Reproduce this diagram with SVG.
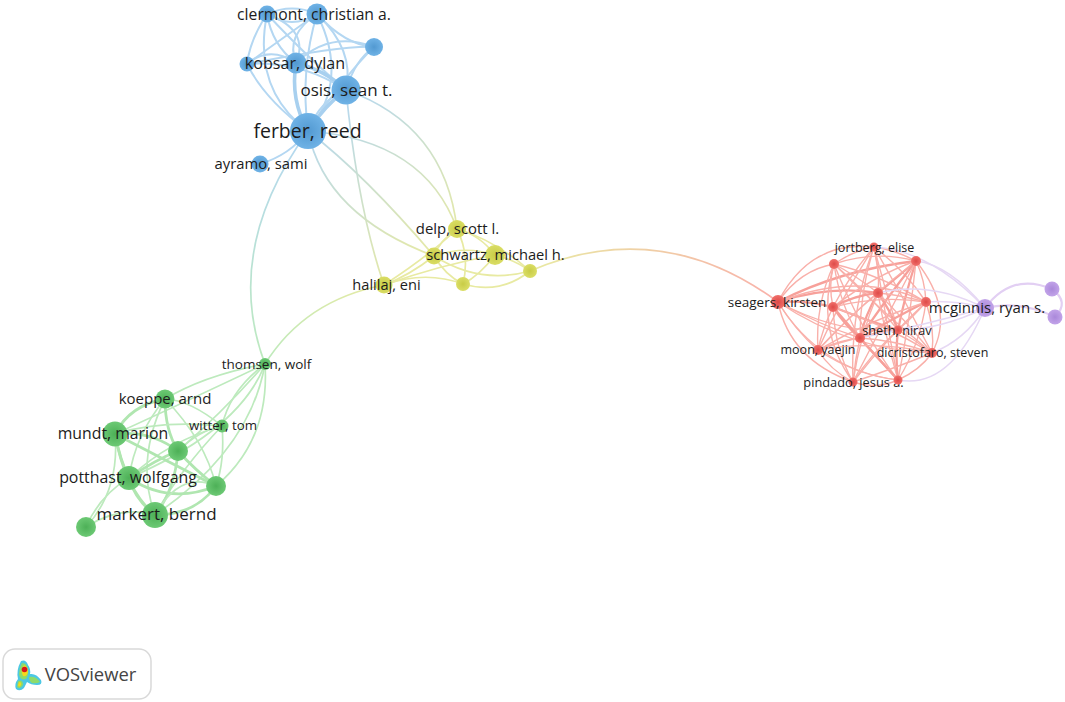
<svg xmlns="http://www.w3.org/2000/svg" width="1065" height="702" viewBox="0 0 1065 702">
<style>
text{font-family:"Open Sans","Noto Sans",sans-serif;fill:#1c1c1c;text-anchor:middle}
#connectors{filter:url(#soft)}
#connectors path{fill:none;stroke-linecap:round}
.b{stroke:#b4d7f2;stroke-width:2}
.bt{stroke:#a8d0ef;stroke-width:3.6}
.g{stroke:#bdeabd;stroke-width:1.7}
.gt{stroke:#b0e6b0;stroke-width:2.8}
.y{stroke:#e8eaa2;stroke-width:1.7}
.r{stroke:#f9b0aa;stroke-width:1.4}
.rt{stroke:#f7a09a;stroke-width:2.3}
.p{stroke:#e6d8f4;stroke-width:1.5}
.pt{stroke:#e2cff3;stroke-width:2.2}
</style>
<defs>
<filter id="soft" x="-5%" y="-5%" width="110%" height="110%"><feGaussianBlur stdDeviation="0.35"/></filter>
<radialGradient id="nb" cx="50%" cy="50%" r="55%"><stop offset="0" stop-color="#5299d1"/><stop offset="1" stop-color="#72b5e8"/></radialGradient>
<radialGradient id="ng" cx="50%" cy="50%" r="55%"><stop offset="0" stop-color="#4db057"/><stop offset="1" stop-color="#70cc78"/></radialGradient>
<radialGradient id="ny" cx="50%" cy="50%" r="55%"><stop offset="0" stop-color="#c8cc46"/><stop offset="1" stop-color="#dcdf68"/></radialGradient>
<radialGradient id="nr" cx="50%" cy="50%" r="55%"><stop offset="0" stop-color="#de4a48"/><stop offset="1" stop-color="#f2736e"/></radialGradient>
<radialGradient id="np" cx="50%" cy="50%" r="55%"><stop offset="0" stop-color="#aa88da"/><stop offset="1" stop-color="#c4a6ea"/></radialGradient>
<linearGradient id="bg" gradientUnits="userSpaceOnUse" x1="0" y1="130" x2="0" y2="364"><stop offset="0" stop-color="#b4d7f2"/><stop offset="1" stop-color="#bdeabd"/></linearGradient>
<linearGradient id="by" gradientUnits="userSpaceOnUse" x1="320" y1="110" x2="440" y2="260"><stop offset="0" stop-color="#b4d7f2"/><stop offset="1" stop-color="#e8eaa2"/></linearGradient>
<linearGradient id="gy" gradientUnits="userSpaceOnUse" x1="265" y1="364" x2="384" y2="285"><stop offset="0" stop-color="#bdeabd"/><stop offset="1" stop-color="#e8eaa2"/></linearGradient>
<linearGradient id="yr" gradientUnits="userSpaceOnUse" x1="530" y1="0" x2="780" y2="0"><stop offset="0" stop-color="#e8eaa2"/><stop offset="1" stop-color="#f9b0aa"/></linearGradient>
</defs>
<rect width="1065" height="702" fill="#fff"/>
<g id="connectors">
<g stroke-width="1.7">
<path stroke="url(#bg)" d="M308 131Q222 250 265 364"/>
<path stroke="url(#gy)" d="M265 364Q305 300 384 285"/>
<path stroke="url(#by)" d="M346 90Q358 210 384 285"/>
<path stroke="url(#by)" d="M308 131Q325 215 434 256"/>
<path stroke="url(#by)" d="M308 131Q365 175 434 256"/>
<path stroke="url(#by)" d="M308 131Q425 140 457 229"/>
<path stroke="url(#by)" d="M346 90Q445 125 457 229"/>
<path stroke="url(#yr)" d="M530 271Q660 215 778 302"/>
</g>
<path class="b" d="M267 14Q292 3 317 14"/>
<path class="b" d="M267 14Q292 30 317 14"/>
<path class="b" d="M267 14Q250 40 247 64"/>
<path class="b" d="M267 14Q310 30 296 63"/>
<path class="b" d="M267 14Q272 45 296 63"/>
<path class="b" d="M267 14Q252 90 308 131"/>
<path class="b" d="M267 14Q310 60 346 90"/>
<path class="b" d="M317 14Q345 45 374 47"/>
<path class="b" d="M317 14Q285 35 296 63"/>
<path class="b" d="M317 14Q280 40 247 64"/>
<path class="b" d="M317 14Q300 70 308 131"/>
<path class="b" d="M317 14Q355 50 346 90"/>
<path class="b" d="M317 14Q350 80 308 131"/>
<path class="b" d="M374 47Q330 30 296 63"/>
<path class="b" d="M374 47Q345 45 247 64"/>
<path class="b" d="M374 47Q355 60 346 90"/>
<path class="b" d="M374 47Q345 75 308 131"/>
<path class="b" d="M247 64Q270 45 296 63"/>
<path class="b" d="M247 64Q300 60 346 90"/>
<path class="b" d="M247 64Q265 100 308 131"/>
<path class="bt" d="M296 63Q325 70 346 90"/>
<path class="bt" d="M296 63Q290 100 308 131"/>
<path class="bt" d="M346 90Q325 105 308 131"/>
<path class="b" d="M346 90Q320 100 308 131"/>
<path class="b" d="M260 164Q290 155 308 131"/>
<path class="g" d="M265 364Q205 375 165 399"/>
<path class="g" d="M265 364Q230 390 222 426"/>
<path class="g" d="M265 364Q200 395 115 434"/>
<path class="g" d="M265 364Q225 410 178 451"/>
<path class="g" d="M265 364Q240 430 129 478"/>
<path class="g" d="M265 364Q270 440 216 486"/>
<path class="g" d="M265 364Q250 450 155 515"/>
<path class="g" d="M165 399Q190 400 222 426"/>
<path class="gt" d="M165 399Q130 405 115 434"/>
<path class="gt" d="M165 399Q165 430 178 451"/>
<path class="g" d="M165 399Q135 435 129 478"/>
<path class="g" d="M165 399Q205 440 216 486"/>
<path class="g" d="M165 399Q135 460 155 515"/>
<path class="g" d="M222 426Q160 420 115 434"/>
<path class="g" d="M222 426Q200 430 178 451"/>
<path class="g" d="M222 426Q170 440 129 478"/>
<path class="g" d="M222 426Q225 460 216 486"/>
<path class="g" d="M222 426Q180 470 155 515"/>
<path class="gt" d="M115 434Q150 430 178 451"/>
<path class="gt" d="M115 434Q120 460 129 478"/>
<path class="gt" d="M115 434Q165 460 216 486"/>
<path class="gt" d="M115 434Q125 490 155 515"/>
<path class="g" d="M115 434Q120 490 86 527"/>
<path class="gt" d="M178 451Q155 460 129 478"/>
<path class="gt" d="M178 451Q195 470 216 486"/>
<path class="gt" d="M178 451Q175 490 155 515"/>
<path class="gt" d="M129 478Q170 505 216 486"/>
<path class="gt" d="M129 478Q135 500 155 515"/>
<path class="g" d="M129 478Q100 495 86 527"/>
<path class="gt" d="M216 486Q195 515 155 515"/>
<path class="g" d="M216 486Q180 470 155 515"/>
<path class="g" d="M155 515Q120 505 86 527"/>
<path class="y" d="M457 229Q440 240 434 256"/>
<path class="y" d="M457 229Q480 235 495 255"/>
<path class="y" d="M457 229Q495 240 530 271"/>
<path class="y" d="M457 229Q470 255 463 284"/>
<path class="y" d="M457 229Q430 255 384 285"/>
<path class="y" d="M434 256Q465 245 495 255"/>
<path class="y" d="M434 256Q480 285 530 271"/>
<path class="y" d="M434 256Q445 275 463 284"/>
<path class="y" d="M434 256Q410 275 384 285"/>
<path class="y" d="M495 255Q480 275 463 284"/>
<path class="y" d="M495 255Q515 260 530 271"/>
<path class="y" d="M495 255Q440 265 384 285"/>
<path class="y" d="M463 284Q500 295 530 271"/>
<path class="y" d="M463 284Q425 270 384 285"/>
<path class="r" d="M778 302Q800 270 834 264"/>
<path class="r" d="M778 302Q810 240 874 247"/>
<path class="rt" d="M778 302Q840 270 916 261"/>
<path class="rt" d="M778 302Q830 285 878 293"/>
<path class="r" d="M778 302Q860 270 926 302"/>
<path class="rt" d="M778 302Q805 300 833 307"/>
<path class="r" d="M778 302Q840 335 898 330"/>
<path class="r" d="M778 302Q820 325 860 338"/>
<path class="r" d="M778 302Q795 330 818 350"/>
<path class="r" d="M778 302Q850 350 932 353"/>
<path class="r" d="M778 302Q790 360 853 382"/>
<path class="r" d="M778 302Q820 370 898 380"/>
<path class="r" d="M834 264Q855 250 874 247"/>
<path class="r" d="M834 264Q875 250 916 261"/>
<path class="r" d="M834 264Q855 275 878 293"/>
<path class="r" d="M834 264Q880 275 926 302"/>
<path class="r" d="M834 264Q828 285 833 307"/>
<path class="r" d="M834 264Q870 295 898 330"/>
<path class="r" d="M834 264Q840 305 860 338"/>
<path class="r" d="M834 264Q815 305 818 350"/>
<path class="r" d="M834 264Q880 310 932 353"/>
<path class="r" d="M834 264Q815 330 853 382"/>
<path class="r" d="M834 264Q860 330 898 380"/>
<path class="r" d="M874 247Q895 250 916 261"/>
<path class="r" d="M874 247Q880 270 878 293"/>
<path class="r" d="M874 247Q905 270 926 302"/>
<path class="r" d="M874 247Q850 275 833 307"/>
<path class="r" d="M874 247Q885 290 898 330"/>
<path class="r" d="M874 247Q860 290 860 338"/>
<path class="r" d="M874 247Q840 300 818 350"/>
<path class="r" d="M874 247Q905 300 932 353"/>
<path class="r" d="M874 247Q850 310 853 382"/>
<path class="r" d="M874 247Q885 315 898 380"/>
<path class="rt" d="M916 261Q900 275 878 293"/>
<path class="r" d="M916 261Q925 280 926 302"/>
<path class="r" d="M916 261Q875 275 833 307"/>
<path class="rt" d="M916 261Q905 295 898 330"/>
<path class="rt" d="M916 261Q885 300 860 338"/>
<path class="r" d="M916 261Q865 300 818 350"/>
<path class="r" d="M916 261Q955 310 932 353"/>
<path class="r" d="M916 261Q885 320 853 382"/>
<path class="r" d="M916 261Q910 320 898 380"/>
<path class="r" d="M878 293Q900 295 926 302"/>
<path class="rt" d="M878 293Q855 295 833 307"/>
<path class="rt" d="M878 293Q890 310 898 330"/>
<path class="rt" d="M878 293Q865 315 860 338"/>
<path class="r" d="M878 293Q845 320 818 350"/>
<path class="r" d="M878 293Q905 320 932 353"/>
<path class="r" d="M878 293Q860 335 853 382"/>
<path class="r" d="M878 293Q885 335 898 380"/>
<path class="r" d="M926 302Q880 295 833 307"/>
<path class="r" d="M926 302Q915 315 898 330"/>
<path class="rt" d="M926 302Q890 320 860 338"/>
<path class="r" d="M926 302Q870 320 818 350"/>
<path class="r" d="M926 302Q935 330 932 353"/>
<path class="r" d="M926 302Q890 335 853 382"/>
<path class="r" d="M926 302Q920 345 898 380"/>
<path class="rt" d="M833 307Q865 320 898 330"/>
<path class="rt" d="M833 307Q845 325 860 338"/>
<path class="r" d="M833 307Q822 330 818 350"/>
<path class="r" d="M833 307Q885 325 932 353"/>
<path class="r" d="M833 307Q835 350 853 382"/>
<path class="rt" d="M833 307Q865 345 898 380"/>
<path class="r" d="M898 330Q880 330 860 338"/>
<path class="r" d="M898 330Q860 335 818 350"/>
<path class="r" d="M898 330Q915 340 932 353"/>
<path class="r" d="M898 330Q870 355 853 382"/>
<path class="rt" d="M898 330Q895 355 898 380"/>
<path class="r" d="M860 338Q840 340 818 350"/>
<path class="r" d="M860 338Q895 340 932 353"/>
<path class="r" d="M860 338Q855 360 853 382"/>
<path class="rt" d="M860 338Q880 360 898 380"/>
<path class="r" d="M818 350Q875 340 932 353"/>
<path class="r" d="M818 350Q830 370 853 382"/>
<path class="r" d="M818 350Q855 375 898 380"/>
<path class="r" d="M932 353Q890 370 853 382"/>
<path class="r" d="M932 353Q920 370 898 380"/>
<path class="r" d="M853 382Q875 390 898 380"/>
<path class="pt" d="M985 308Q1012 272 1052 289"/>
<path class="pt" d="M1052 289Q1070 302 1055 317"/>
<path class="pt" d="M985 308Q1020 300 1055 317"/>
<path class="p" d="M985 308Q950 265 916 261"/>
<path class="p" d="M985 308Q955 300 926 302"/>
<path class="p" d="M985 308Q930 280 878 293"/>
<path class="p" d="M985 308Q940 330 898 330"/>
<path class="p" d="M985 308Q965 340 932 353"/>
<path class="p" d="M985 308Q950 390 898 380"/>
<path class="p" d="M985 308Q930 250 874 247"/>
<path class="p" d="M985 308Q925 325 860 338"/>
</g>
<g id="node-clermont-1"><circle cx="267" cy="14" r="8.500" fill="url(#nb)"/></g>
<g id="node-clermont"><circle cx="317" cy="14" r="10.500" fill="url(#nb)"/><text x="314" y="20" font-size="15.700">clermont, christian a.</text></g>
<g id="node-blue-3"><circle cx="374" cy="47" r="9" fill="url(#nb)"/></g>
<g id="node-blue-4"><circle cx="247" cy="64" r="7.500" fill="url(#nb)"/></g>
<g id="node-kobsar"><circle cx="296" cy="63" r="10.500" fill="url(#nb)"/><text x="295" y="68.500" font-size="16.100">kobsar, dylan</text></g>
<g id="node-osis"><circle cx="346" cy="90" r="14.500" fill="url(#nb)"/><text x="346.500" y="95.500" font-size="17">osis, sean t.</text></g>
<g id="node-ferber"><circle cx="308" cy="131" r="18" fill="url(#nb)"/><text x="307.500" y="138" font-size="19.500">ferber, reed</text></g>
<g id="node-ayramo"><circle cx="260" cy="164" r="8.500" fill="url(#nb)"/><text x="261" y="169" font-size="14.800">ayramo, sami</text></g>
<g id="node-delp"><circle cx="457" cy="229" r="9" fill="url(#ny)"/><text x="457.500" y="234" font-size="14.900">delp, scott l.</text></g>
<g id="node-schwartz-a"><circle cx="434" cy="256" r="8.500" fill="url(#ny)"/></g>
<g id="node-schwartz"><circle cx="495" cy="255" r="10" fill="url(#ny)"/><text x="495.500" y="260" font-size="14.700">schwartz, michael h.</text></g>
<g id="node-yellow-4"><circle cx="530" cy="271" r="7" fill="url(#ny)"/></g>
<g id="node-yellow-5"><circle cx="463" cy="284" r="7" fill="url(#ny)"/></g>
<g id="node-halilaj"><circle cx="384" cy="285" r="8.500" fill="url(#ny)"/><text x="386.500" y="289.500" font-size="14.600">halilaj, eni</text></g>
<g id="node-thomsen"><circle cx="265" cy="364" r="6" fill="url(#ng)"/><text x="266.500" y="369" font-size="13.500">thomsen, wolf</text></g>
<g id="node-koeppe"><circle cx="165" cy="399" r="9.500" fill="url(#ng)"/><text x="165" y="404" font-size="15">koeppe, arnd</text></g>
<g id="node-witter"><circle cx="222" cy="426" r="6.500" fill="url(#ng)"/><text x="223" y="430" font-size="13.300">witter, tom</text></g>
<g id="node-mundt"><circle cx="115" cy="434" r="12.500" fill="url(#ng)"/><text x="113" y="439" font-size="15.800">mundt, marion</text></g>
<g id="node-green-5"><circle cx="178" cy="451" r="10" fill="url(#ng)"/></g>
<g id="node-potthast"><circle cx="129" cy="478" r="12" fill="url(#ng)"/><text x="128" y="483" font-size="15.900">potthast, wolfgang</text></g>
<g id="node-green-7"><circle cx="216" cy="486" r="10" fill="url(#ng)"/></g>
<g id="node-markert"><circle cx="155" cy="515" r="13" fill="url(#ng)"/><text x="156.500" y="520" font-size="17">markert, bernd</text></g>
<g id="node-green-9"><circle cx="86" cy="527" r="10" fill="url(#ng)"/></g>
<g id="node-seagers"><circle cx="778" cy="302" r="7" fill="url(#nr)"/><text x="777" y="307" font-size="13.500">seagers, kirsten</text></g>
<g id="node-jortberg"><circle cx="874" cy="247" r="4.500" fill="url(#nr)"/><text x="874.500" y="252" font-size="12.500">jortberg, elise</text></g>
<g id="node-red-3"><circle cx="834" cy="264" r="5" fill="url(#nr)"/></g>
<g id="node-red-4"><circle cx="916" cy="261" r="5" fill="url(#nr)"/></g>
<g id="node-red-5"><circle cx="878" cy="293" r="5" fill="url(#nr)"/></g>
<g id="node-red-6"><circle cx="926" cy="302" r="5" fill="url(#nr)"/></g>
<g id="node-red-7"><circle cx="833" cy="307" r="5" fill="url(#nr)"/></g>
<g id="node-sheth"><circle cx="898" cy="330" r="4.500" fill="url(#nr)"/><text x="897" y="335" font-size="12.700">sheth, nirav</text></g>
<g id="node-red-9"><circle cx="860" cy="338" r="5" fill="url(#nr)"/></g>
<g id="node-moon"><circle cx="818" cy="350" r="5" fill="url(#nr)"/><text x="818" y="354" font-size="12.500">moon, yaejin</text></g>
<g id="node-dicristofaro"><circle cx="932" cy="353" r="5" fill="url(#nr)"/><text x="932.500" y="357" font-size="12.500">dicristofaro, steven</text></g>
<g id="node-pindado"><circle cx="853" cy="382" r="4.500" fill="url(#nr)"/><text x="853.500" y="387" font-size="12.800">pindado, jesus a.</text></g>
<g id="node-red-13"><circle cx="898" cy="380" r="4.500" fill="url(#nr)"/></g>
<g id="node-mcginnis"><circle cx="985" cy="308" r="9" fill="url(#np)"/><text x="987" y="313" font-size="15">mcginnis, ryan s.</text></g>
<g id="node-purple-2"><circle cx="1052" cy="289" r="7.500" fill="url(#np)"/></g>
<g id="node-purple-3"><circle cx="1055" cy="317" r="7.500" fill="url(#np)"/></g>
<g id="logo">
<rect x="3" y="649" width="148" height="50" rx="12" fill="#fff" stroke="#d9d9d9" stroke-width="1.500"/>
<path d="M21 661Q26 659 28 665Q31 669 30 674Q36 673 41 680Q43 685 37 685Q31 685 27 682Q25 686 24 688Q20 692 16 689Q14 684 18 679Q16 670 21 661Z" fill="#4cc8e4"/>
<path d="M22 663Q27 663 28 669Q29 675 26 679Q20 681 19 674Q19 668 22 663ZM29 677Q36 676 40 682Q36 684 32 683Q29 681 29 677ZM18 681Q23 679 23 685Q20 690 17 687Z" fill="#8edb6a"/>
<path d="M19 682Q22 682 21 685Q19 688 18 685ZM24 665Q28 667 28 672Q27 677 23 676Q20 671 24 665Z" fill="#f4d81c"/>
<circle cx="24.500" cy="669.500" r="2.800" fill="#d9161c"/>
<text x="90.500" y="680.500" font-size="18.400" style="fill:#444">VOSviewer</text>
</g>
</svg>
